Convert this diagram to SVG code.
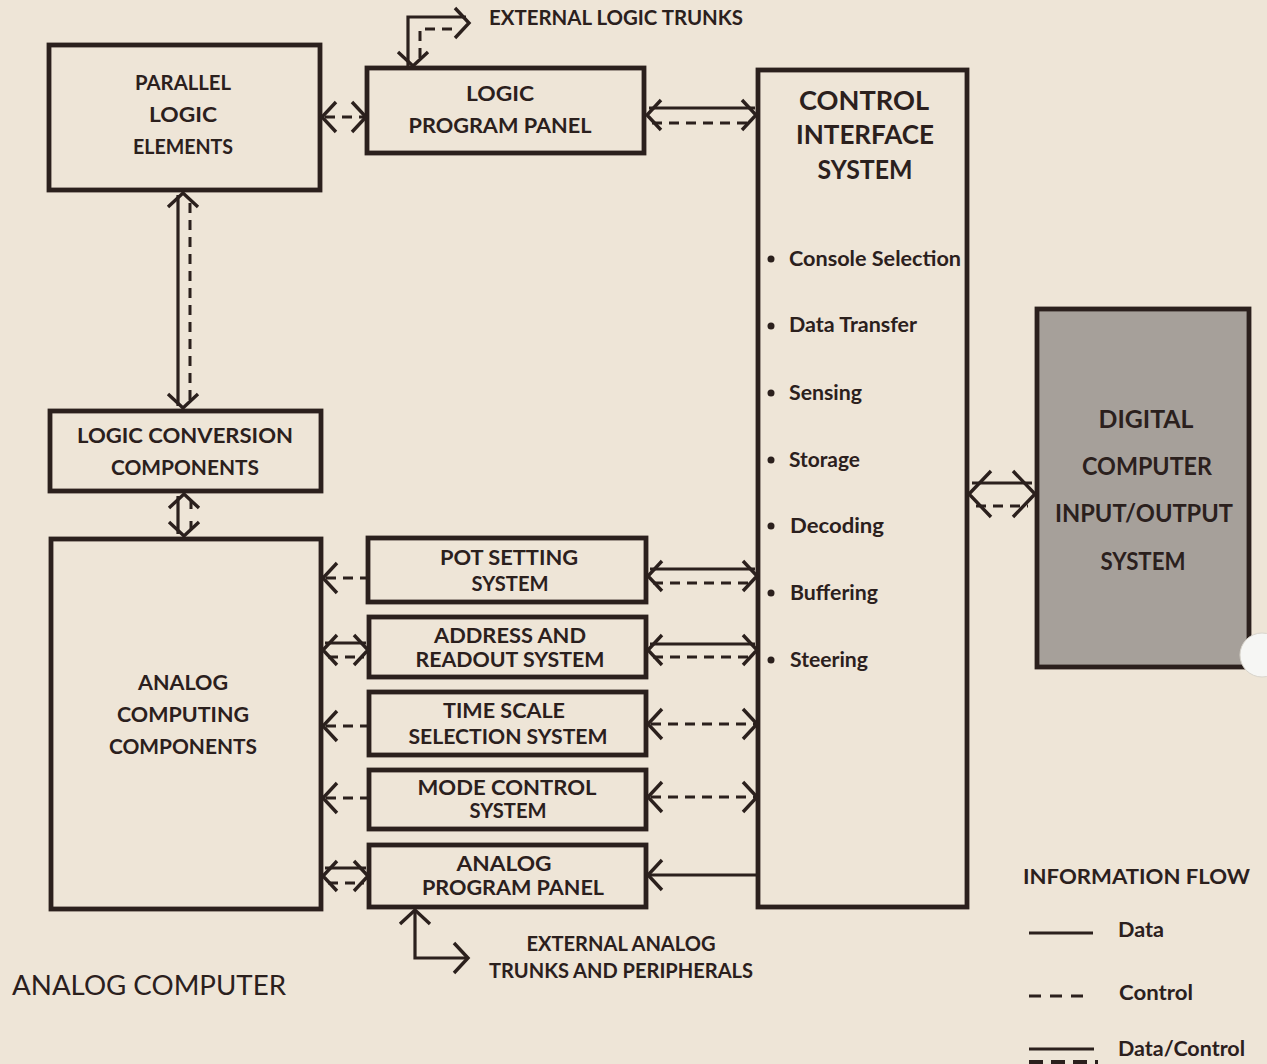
<svg xmlns="http://www.w3.org/2000/svg" xmlns:xlink="http://www.w3.org/1999/xlink" width="1267" height="1064" viewBox="0 0 1267 1064">
<style>
.bg{fill:#eee5d7}
.box{fill:none;stroke:#2b201d;stroke-width:4.8;stroke-linejoin:miter}
.gray{fill:#a6a09a;stroke:#2b201d;stroke-width:4.8}
.d{fill:none;stroke:#2b201d;stroke-width:3.2}
.c{fill:none;stroke:#2b201d;stroke-width:3;stroke-dasharray:10 7}
.ah{fill:none;stroke:#2b201d;stroke-width:3.4;stroke-linecap:butt;stroke-linejoin:miter}
text{font-family:Lato,"Open Sans","Liberation Sans",sans-serif;font-weight:700;fill:#2b201d}
.t20{font-size:21px;text-anchor:middle}
.t24{font-size:26px;text-anchor:middle}
.t22{font-size:24px;text-anchor:middle}
.b{font-size:21px}
.bul{fill:#2b201d}
</style>
<defs>
<path id="chev" d="M-14,-15 L0,0 L-14,15"/>
<path id="chevB" d="M-22,-23 L0,0 L-22,23"/>
</defs>
<rect class="bg" x="0" y="0" width="1267" height="1064"/>

<g id="parallel-logic-elements">
<rect class="box" x="49" y="45" width="271" height="145"/>
<text class="t20" x="183" y="90" textLength="96" lengthAdjust="spacingAndGlyphs">PARALLEL</text>
<text class="t20" x="183" y="122" textLength="68" lengthAdjust="spacingAndGlyphs">LOGIC</text>
<text class="t20" x="183" y="154" textLength="100" lengthAdjust="spacingAndGlyphs">ELEMENTS</text>
</g>

<g id="logic-program-panel">
<rect class="box" x="367" y="68" width="277" height="85"/>
<text class="t20" x="500" y="101" textLength="68" lengthAdjust="spacingAndGlyphs">LOGIC</text>
<text class="t20" x="500" y="133" textLength="183" lengthAdjust="spacingAndGlyphs">PROGRAM  PANEL</text>
</g>

<g id="control-interface-system">
<rect class="box" x="758" y="70" width="209" height="837"/>
<text class="t24" x="864" y="110" textLength="130" lengthAdjust="spacingAndGlyphs">CONTROL</text>
<text class="t24" x="865" y="144" textLength="138" lengthAdjust="spacingAndGlyphs">INTERFACE</text>
<text class="t24" x="865" y="179" textLength="95" lengthAdjust="spacingAndGlyphs">SYSTEM</text>
<circle class="bul" cx="771" cy="259" r="3.5"/>
<text class="b" x="789" y="266" textLength="172" lengthAdjust="spacingAndGlyphs">Console Selection</text>
<circle class="bul" cx="771" cy="326" r="3.5"/>
<text class="b" x="789" y="332" textLength="128" lengthAdjust="spacingAndGlyphs">Data Transfer</text>
<circle class="bul" cx="771" cy="393" r="3.5"/>
<text class="b" x="789" y="400" textLength="73" lengthAdjust="spacingAndGlyphs">Sensing</text>
<circle class="bul" cx="771" cy="460" r="3.5"/>
<text class="b" x="789" y="467" textLength="71" lengthAdjust="spacingAndGlyphs">Storage</text>
<circle class="bul" cx="771" cy="526" r="3.5"/>
<text class="b" x="790" y="533" textLength="94" lengthAdjust="spacingAndGlyphs">Decoding</text>
<circle class="bul" cx="771" cy="593" r="3.5"/>
<text class="b" x="790" y="600" textLength="88" lengthAdjust="spacingAndGlyphs">Buffering</text>
<circle class="bul" cx="771" cy="660" r="3.5"/>
<text class="b" x="790" y="667" textLength="78" lengthAdjust="spacingAndGlyphs">Steering</text>
</g>

<g id="digital-computer-io-system">
<rect class="gray" x="1037" y="309" width="212" height="358"/>
<text class="t22" x="1146" y="428" textLength="95" lengthAdjust="spacingAndGlyphs">DIGITAL</text>
<text class="t22" x="1147" y="475" textLength="130" lengthAdjust="spacingAndGlyphs">COMPUTER</text>
<text class="t22" x="1144" y="522" textLength="178" lengthAdjust="spacingAndGlyphs">INPUT/OUTPUT</text>
<text class="t22" x="1143" y="570" textLength="85" lengthAdjust="spacingAndGlyphs">SYSTEM</text>
</g>

<g id="logic-conversion-components">
<rect class="box" x="50" y="411" width="271" height="80"/>
<text class="t20" x="185" y="443" textLength="216" lengthAdjust="spacingAndGlyphs">LOGIC  CONVERSION</text>
<text class="t20" x="185" y="475" textLength="148" lengthAdjust="spacingAndGlyphs">COMPONENTS</text>
</g>

<g id="analog-computing-components">
<rect class="box" x="51" y="539" width="270" height="370"/>
<text class="t20" x="183" y="690" textLength="90" lengthAdjust="spacingAndGlyphs">ANALOG</text>
<text class="t20" x="183" y="722" textLength="132" lengthAdjust="spacingAndGlyphs">COMPUTING</text>
<text class="t20" x="183" y="754" textLength="148" lengthAdjust="spacingAndGlyphs">COMPONENTS</text>
</g>

<g id="pot-setting-system">
<rect class="box" x="368" y="538" width="278" height="64"/>
<text class="t20" x="509" y="565" textLength="138" lengthAdjust="spacingAndGlyphs">POT  SETTING</text>
<text class="t20" x="510" y="591" textLength="77" lengthAdjust="spacingAndGlyphs">SYSTEM</text>
</g>

<g id="address-readout-system">
<rect class="box" x="369" y="617" width="277" height="60"/>
<text class="t20" x="510" y="643" textLength="152" lengthAdjust="spacingAndGlyphs">ADDRESS  AND</text>
<text class="t20" x="510" y="667" textLength="189" lengthAdjust="spacingAndGlyphs">READOUT  SYSTEM</text>
</g>

<g id="time-scale-selection-system">
<rect class="box" x="369" y="692" width="277" height="63"/>
<text class="t20" x="504" y="718" textLength="122" lengthAdjust="spacingAndGlyphs">TIME  SCALE</text>
<text class="t20" x="508" y="744" textLength="199" lengthAdjust="spacingAndGlyphs">SELECTION  SYSTEM</text>
</g>

<g id="mode-control-system">
<rect class="box" x="369" y="770" width="277" height="59"/>
<text class="t20" x="507" y="795" textLength="179" lengthAdjust="spacingAndGlyphs">MODE  CONTROL</text>
<text class="t20" x="508" y="818" textLength="77" lengthAdjust="spacingAndGlyphs">SYSTEM</text>
</g>

<g id="analog-program-panel">
<rect class="box" x="369" y="845" width="277" height="62"/>
<text class="t20" x="504" y="871" textLength="95" lengthAdjust="spacingAndGlyphs">ANALOG</text>
<text class="t20" x="513" y="895" textLength="182" lengthAdjust="spacingAndGlyphs">PROGRAM  PANEL</text>
</g>

<g id="labels">
<text class="t20" x="616" y="25" textLength="254" lengthAdjust="spacingAndGlyphs">EXTERNAL  LOGIC  TRUNKS</text>
<text class="t20" x="621" y="951" textLength="189" lengthAdjust="spacingAndGlyphs">EXTERNAL  ANALOG</text>
<text class="t20" x="621" y="978" textLength="264" lengthAdjust="spacingAndGlyphs">TRUNKS  AND  PERIPHERALS</text>
<text x="12" y="995" style="font-size:27px;font-weight:400" textLength="274" lengthAdjust="spacingAndGlyphs">ANALOG  COMPUTER</text>
</g>

<g id="connectors">
<!-- external logic trunks -->
<path class="d" d="M408,66 V17 H466"/>
<path class="c" d="M420,58 V29 H458"/>
<use xlink:href="#chev" class="ah" transform="translate(413,66) rotate(90)"/>
<use xlink:href="#chev" class="ah" transform="translate(469,23)"/>
<!-- PLE <-> LPP -->
<path class="c" d="M325,117 H364"/>
<use xlink:href="#chev" class="ah" transform="translate(322,117) rotate(180)"/>
<use xlink:href="#chev" class="ah" transform="translate(366,117)"/>
<!-- LPP <-> CIS -->
<path class="d" d="M649,108 H755"/>
<path class="c" d="M652,123 H752"/>
<use xlink:href="#chev" class="ah" transform="translate(647,115) rotate(180)"/>
<use xlink:href="#chev" class="ah" transform="translate(756,115)"/>
<!-- PLE <-> LCC -->
<path class="d" d="M178,195 V406"/>
<path class="c" d="M190,203 V400"/>
<use xlink:href="#chev" class="ah" transform="translate(183,193) rotate(-90)"/>
<use xlink:href="#chev" class="ah" transform="translate(183,408) rotate(90)"/>
<!-- LCC <-> ACC -->
<path class="d" d="M178,496 V534"/>
<path class="c" d="M191,500 V530" style="stroke-dasharray:9 12"/>
<use xlink:href="#chev" class="ah" transform="translate(184,494) rotate(-90)"/>
<use xlink:href="#chev" class="ah" transform="translate(184,536) rotate(90)"/>
<!-- ACC <- Pot -->
<path class="c" d="M326,578 H366"/>
<use xlink:href="#chev" class="ah" transform="translate(323,578) rotate(180)"/>
<!-- ACC <-> Address -->
<path class="d" d="M325,643 H366"/>
<path class="c" d="M328,657 H364"/>
<use xlink:href="#chev" class="ah" transform="translate(323,650) rotate(180)"/>
<use xlink:href="#chev" class="ah" transform="translate(368,650)"/>
<!-- ACC <- Time -->
<path class="c" d="M326,726 H367"/>
<use xlink:href="#chev" class="ah" transform="translate(323,726) rotate(180)"/>
<!-- ACC <- Mode -->
<path class="c" d="M326,798 H367"/>
<use xlink:href="#chev" class="ah" transform="translate(323,798) rotate(180)"/>
<!-- ACC <-> APP -->
<path class="d" d="M325,868 H366"/>
<path class="c" d="M328,883 H364"/>
<use xlink:href="#chev" class="ah" transform="translate(323,876) rotate(180)"/>
<use xlink:href="#chev" class="ah" transform="translate(368,876)"/>
<!-- Pot <-> CIS -->
<path class="d" d="M650,569 H755"/>
<path class="c" d="M653,583 H752"/>
<use xlink:href="#chev" class="ah" transform="translate(648,576) rotate(180)"/>
<use xlink:href="#chev" class="ah" transform="translate(757,576)"/>
<!-- Address <-> CIS -->
<path class="d" d="M650,644 H755"/>
<path class="c" d="M653,657 H752"/>
<use xlink:href="#chev" class="ah" transform="translate(648,650) rotate(180)"/>
<use xlink:href="#chev" class="ah" transform="translate(757,650)"/>
<!-- Time <-> CIS -->
<path class="c" d="M651,724 H755"/>
<use xlink:href="#chev" class="ah" transform="translate(648,724) rotate(180)"/>
<use xlink:href="#chev" class="ah" transform="translate(757,724)"/>
<!-- Mode <-> CIS -->
<path class="c" d="M651,797 H755"/>
<use xlink:href="#chev" class="ah" transform="translate(648,797) rotate(180)"/>
<use xlink:href="#chev" class="ah" transform="translate(757,797)"/>
<!-- CIS -> APP -->
<path class="d" d="M650,875 H757"/>
<use xlink:href="#chev" class="ah" transform="translate(648,875) rotate(180)"/>
<!-- CIS <-> DCIO -->
<path class="d" d="M972,483 H1032"/>
<path class="c" d="M976,506 H1028"/>
<use xlink:href="#chevB" class="ah" transform="translate(969,494) rotate(180)"/>
<use xlink:href="#chevB" class="ah" transform="translate(1035,494)"/>
<!-- external analog trunks -->
<path class="d" d="M415,912 V958 H466"/>
<use xlink:href="#chev" class="ah" transform="translate(415,910) rotate(-90)"/>
<use xlink:href="#chev" class="ah" transform="translate(468,958)"/>
</g>

<g id="legend">
<text x="1023" y="884" style="font-size:21px" textLength="227" lengthAdjust="spacingAndGlyphs">INFORMATION  FLOW</text>
<line class="d" x1="1029" y1="933" x2="1093" y2="933"/>
<text x="1118" y="937" style="font-size:21px" textLength="46" lengthAdjust="spacingAndGlyphs">Data</text>
<line class="c" x1="1029" y1="996" x2="1092" y2="996" style="stroke-dasharray:12 9"/>
<text x="1119" y="1000" style="font-size:21px" textLength="74" lengthAdjust="spacingAndGlyphs">Control</text>
<line class="d" x1="1029" y1="1049" x2="1094" y2="1049"/>
<line class="c" x1="1029" y1="1062" x2="1098" y2="1062" style="stroke-dasharray:14 8;stroke-width:4"/>
<text x="1118" y="1056" style="font-size:21px" textLength="127" lengthAdjust="spacingAndGlyphs">Data/Control</text>
</g>

<circle cx="1262" cy="655" r="22" fill="#f6f6f4" stroke="#d8d4cc" stroke-width="1"/>
</svg>
